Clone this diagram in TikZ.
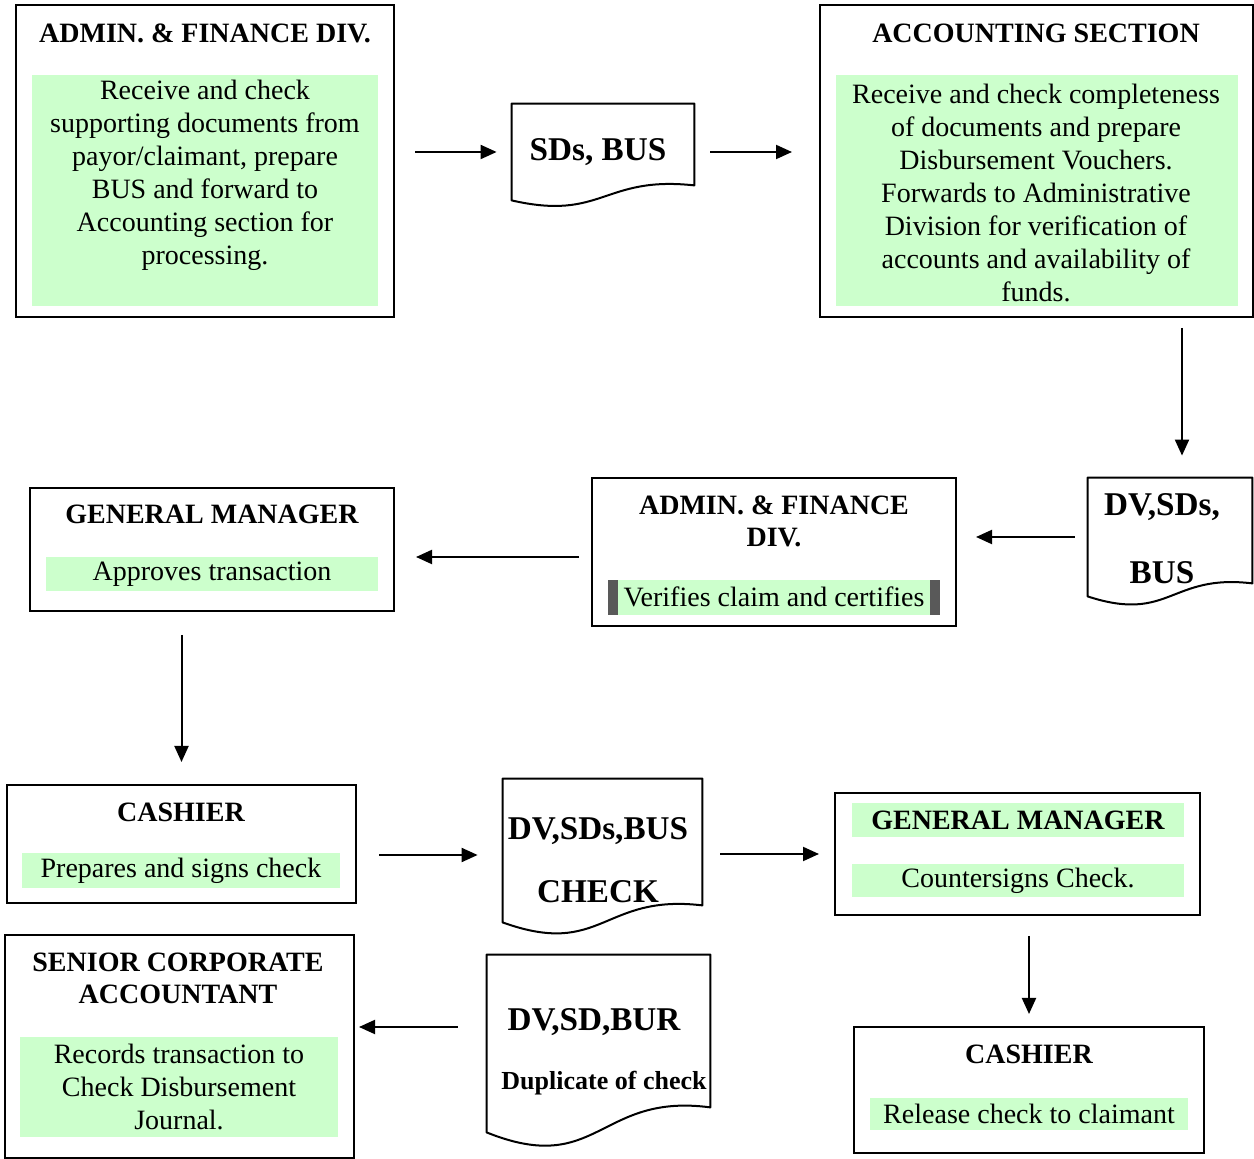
\documentclass[tikz,border=0pt]{standalone}
\usepackage{fontspec}
\setmainfont{Liberation Serif}
\usetikzlibrary{arrows.meta,calc}
\definecolor{hl}{HTML}{CCFFCC}
\definecolor{barg}{HTML}{595959}
% document symbol with a wavy lower edge
\newcommand{\docoutline}[4]{%
  \draw[docline] (#1.south west) -- (#1.north west) -- (#1.north east)
    -- ($(#1.south east)+(0,-#2)$)
    .. controls ($(#1.south)+(0,-#2-#4)$) and ($(#1.south)+(0,#3)$) .. (#1.south west) -- cycle;}
\begin{document}
\begin{tikzpicture}[x=0.5pt,y=-0.5pt,
  box/.style={draw, line width=1pt, inner sep=0pt},
  hlbox/.style={fill=hl, inner sep=0pt},
  ttl/.style={font=\fontsize{14}{16}\selectfont\bfseries, align=center, inner sep=0pt},
  body/.style={font=\fontsize{14}{16.5}\selectfont, align=center, inner sep=0pt},
  doctxt/.style={font=\fontsize{16.6}{19}\selectfont\bfseries, inner sep=0pt},
  docnode/.style={inner sep=0pt},
  docline/.style={line width=1pt, line join=round},
  flow/.style={line width=1pt, -{Triangle[length=8pt,width=7pt]}},
]
\useasboundingbox (0,0) rectangle (1254,1159);

% ---- process boxes ----
\node[box, minimum width=189pt, minimum height=156pt] (a1) at (205,161) {};
\node[box, minimum width=216.5pt, minimum height=156pt] (acc) at (1036.5,161) {};
\node[box, minimum width=182pt, minimum height=74pt] (af2) at (774,552) {};
\node[box, minimum width=182pt, minimum height=61.5pt] (gm1) at (212,549.5) {};
\node[box, minimum width=174.5pt, minimum height=59pt] (c1) at (181.5,844) {};
\node[box, minimum width=182.5pt, minimum height=61pt] (gm2) at (1017.5,854) {};
\node[box, minimum width=175pt, minimum height=63pt] (c2) at (1029,1090) {};
\node[box, minimum width=174.5pt, minimum height=111.5pt] (sca) at (179.5,1046.5) {};

% ---- document symbols ----
\node[docnode, minimum width=91pt, minimum height=48pt] (sd) at (603,152) {};
\node[docnode, minimum width=82pt, minimum height=59pt] (dv1) at (1170,537) {};
\node[docnode, minimum width=99.5pt, minimum height=71.5pt] (dv2) at (602.5,850.5) {};
\node[docnode, minimum width=111.5pt, minimum height=88.5pt] (dv3) at (598.5,1043.5) {};
\docoutline{sd}{15}{21}{10}
\docoutline{dv1}{13}{27}{10}
\docoutline{dv2}{17}{36}{12}
\docoutline{dv3}{25}{45}{15}

% ---- highlighted bands ----
\node[hlbox, minimum width=173pt, minimum height=115.5pt] (a1hl) at (205,190.5) {};
\node[hlbox, minimum width=201pt, minimum height=115.5pt] (acchl) at (1037,190.5) {};
\node[fill=barg, inner sep=0pt, minimum width=166pt, minimum height=17.5pt] (af2bar) at (774,597.5) {};
\node[hlbox, minimum width=156pt, minimum height=17.5pt] (af2hl) at (774,597.5) {};
\node[hlbox, minimum width=166pt, minimum height=17pt] (gm1hl) at (212,574) {};
\node[hlbox, minimum width=159pt, minimum height=17.5pt] (c1hl) at (181,870.5) {};
\node[hlbox, minimum width=166pt, minimum height=17pt] (gm2hlt) at (1018,820) {};
\node[hlbox, minimum width=166pt, minimum height=16.5pt] (gm2hl) at (1018,880.5) {};
\node[hlbox, minimum width=159pt, minimum height=16pt] (c2hl) at (1029,1114) {};
\node[hlbox, minimum width=159pt, minimum height=50pt] (scahl) at (179,1087) {};

% ---- titles ----
\node[ttl] (a1t) at (205,33) {ADMIN. \& FINANCE DIV.};
\node[ttl] (acct) at (1036,33) {ACCOUNTING SECTION};
\node[ttl] (af2t) at (774,521.5) {ADMIN. \& FINANCE\\DIV.};
\node[ttl] (gm1t) at (212,514) {GENERAL MANAGER};
\node[ttl] (c1t) at (181,812) {CASHIER};
\node[ttl] (gm2t) at (1018,820) {GENERAL MANAGER};
\node[ttl] (c2t) at (1029,1054) {CASHIER};
\node[ttl] (scat) at (178,978) {SENIOR CORPORATE\\ACCOUNTANT};

% ---- descriptions ----
\node[body] (a1b) at (205,175) {Receive and check\\supporting documents from\\payor/claimant, prepare\\BUS and forward to\\Accounting section for\\processing.};
\node[body] (accb) at (1036,192.5) {Receive and check completeness\\of documents and prepare\\Disbursement Vouchers.\\Forwards to Administrative\\Division for verification of\\accounts and availability of\\funds.};
\node[body] (af2b) at (774,597) {Verifies claim and certifies};
\node[body] (gm1b) at (212,574) {Approves transaction};
\node[body] (c1b) at (181,871) {Prepares and signs check};
\node[body] (gm2b) at (1018,881) {Countersigns Check.};
\node[body] (c2b) at (1029,1114) {Release check to claimant};
\node[body] (scab) at (179,1086.5) {Records transaction to\\Check Disbursement\\Journal.};

% ---- document labels ----
\node[doctxt] (sdt) at (598,152) {SDs, BUS};
\node[doctxt] (dv1a) at (1162,507) {DV,SDs,};
\node[doctxt] (dv1b) at (1162,573) {BUS};
\node[doctxt] (dv2a) at (598,831) {DV,SDs,BUS};
\node[doctxt] (dv2b) at (598,892) {CHECK};
\node[doctxt] (dv3a) at (594,1022) {DV,SD,BUR};
\node[doctxt, font=\fontsize{13}{15}\selectfont\bfseries] (dv3b) at (604,1083) {Duplicate of check};

% ---- flow arrows ----
\draw[flow, shorten <=10pt, shorten >=7.5pt] (a1.east |- sd.west) -- (sd.west);
\draw[flow, shorten <=8pt, shorten >=13.5pt] (sd.east) -- (sd.east -| acc.west);
\draw[flow, shorten <=5pt, shorten >=11pt] ($(dv1.north |- acc.south)+(12,0)$) -- ($(dv1.north)+(12,0)$);
\draw[flow, shorten <=6.5pt, shorten >=9.5pt] (dv1.west) -- (dv1.west -| af2.east);
\draw[flow, shorten <=6pt, shorten >=10.5pt] ($(af2.west)+(0,5)$) -- ($(af2.west -| gm1.east)+(0,5)$);
\draw[flow, shorten <=11.5pt, shorten >=11pt] (gm1.south -| c1.north) -- (c1.north);
\draw[flow, shorten <=11pt, shorten >=12.5pt] ($(c1.east)+(0,11)$) -- ($(c1.east -| dv2.west)+(0,11)$);
\draw[flow, shorten <=9pt, shorten >=7.5pt] (gm2.west -| dv2.east) -- (gm2.west);
\draw[flow, shorten <=10pt, shorten >=6pt] (gm2.south -| c2.north) -- (c2.north);
\draw[flow, shorten <=14.5pt, shorten >=2pt] ($(dv3.west)+(0,-16.5)$) -- ($(dv3.west -| sca.east)+(0,-16.5)$);
\end{tikzpicture}
\end{document}
